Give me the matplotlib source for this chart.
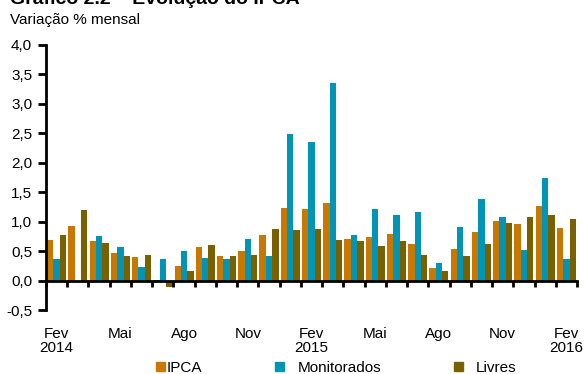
import numpy as np
import matplotlib.pyplot as plt
from matplotlib.patches import Patch
from matplotlib.ticker import FuncFormatter

plt.rcParams['font.family'] = ['Liberation Sans', 'DejaVu Sans']

# Fev/2014 .. Fev/2016
meses = ["Fev\n2014", "Mar", "Abr", "Mai", "Jun", "Jul", "Ago", "Set", "Out", "Nov", "Dez",
         "Jan", "Fev\n2015", "Mar", "Abr", "Mai", "Jun", "Jul", "Ago", "Set", "Out", "Nov",
         "Dez", "Jan", "Fev\n2016"]

ipca = [0.69, 0.92, 0.67, 0.46, 0.40, 0.01, 0.25, 0.57, 0.42, 0.51, 0.78, 1.24, 1.22,
        1.32, 0.71, 0.74, 0.79, 0.62, 0.22, 0.54, 0.82, 1.01, 0.96, 1.27, 0.90]
monitorados = [0.37, 0.0, 0.75, 0.57, 0.23, 0.37, 0.50, 0.38, 0.36, 0.71, 0.41, 2.49,
               2.36, 3.36, 0.78, 1.21, 1.11, 1.16, 0.30, 0.91, 1.38, 1.08, 0.52, 1.74, 0.37]
livres = [0.77, 1.19, 0.63, 0.41, 0.43, -0.11, 0.16, 0.60, 0.41, 0.44, 0.87, 0.86, 0.87,
          0.69, 0.67, 0.58, 0.67, 0.43, 0.17, 0.41, 0.62, 0.97, 1.08, 1.11, 1.04]

series = [("IPCA", ipca, "#C87700"),
          ("Monitorados", monitorados, "#0095B7"),
          ("Livres", livres, "#7A6100")]

fig = plt.figure(figsize=(5.85, 3.74), dpi=100)
ax = fig.add_axes([46 / 585, 1 - 310 / 374, 531 / 585, 265 / 374])

x = np.arange(len(meses))
largura = 0.3
for i, (nome, valores, cor) in enumerate(series):
    ax.bar(x + (i - 1) * largura, valores, largura, color=cor, linewidth=0)

ax.set_xlim(-0.5, len(meses) - 0.5)
ax.set_ylim(-0.5, 4.0)
ax.set_yticks(np.arange(-0.5, 4.01, 0.5))
ax.yaxis.set_major_formatter(FuncFormatter(lambda v, p: f"{v:.1f}".replace(".", ",")))
ax.tick_params(axis="y", direction="out", length=6, width=2, pad=4, labelsize=11)

for lado in ("top", "right"):
    ax.spines[lado].set_visible(False)
ax.spines["left"].set_linewidth(2)
ax.spines["bottom"].set_position(("data", 0))
ax.spines["bottom"].set_linewidth(2)
ax.set_xticks(np.arange(-0.5, len(meses), 1.0))
ax.tick_params(axis="x", direction="out", length=4, width=2, labelbottom=False)

# rótulos trimestrais na base do gráfico
sec = ax.secondary_xaxis("bottom")
sec.spines["bottom"].set_visible(False)
sec.set_xticks(x[::3])
sec.set_xticklabels(meses[::3], fontsize=11, linespacing=1.0)
sec.tick_params(length=0, pad=12)

fig.text(10 / 585, 1 - 4 / 374, "Gráfico 2.2 – Evolução do IPCA", fontsize=14,
         fontweight="bold", va="baseline")
fig.text(10 / 585, 1 - 24 / 374, "Variação % mensal", fontsize=11, va="baseline")

posicoes = [156, 275, 454]
pads = [0.1, 0.9, 0.8]
for (nome, valores, cor), px, pad in zip(series, posicoes, pads):
    fig.legend(handles=[Patch(color=cor)], labels=[nome], loc="center left",
               bbox_to_anchor=(px / 585, 1 - 368 / 374), frameon=False, fontsize=11,
               handlelength=0.6, handleheight=0.6, handletextpad=pad, borderpad=0,
               borderaxespad=0)

fig.savefig("out.png", dpi=100)
